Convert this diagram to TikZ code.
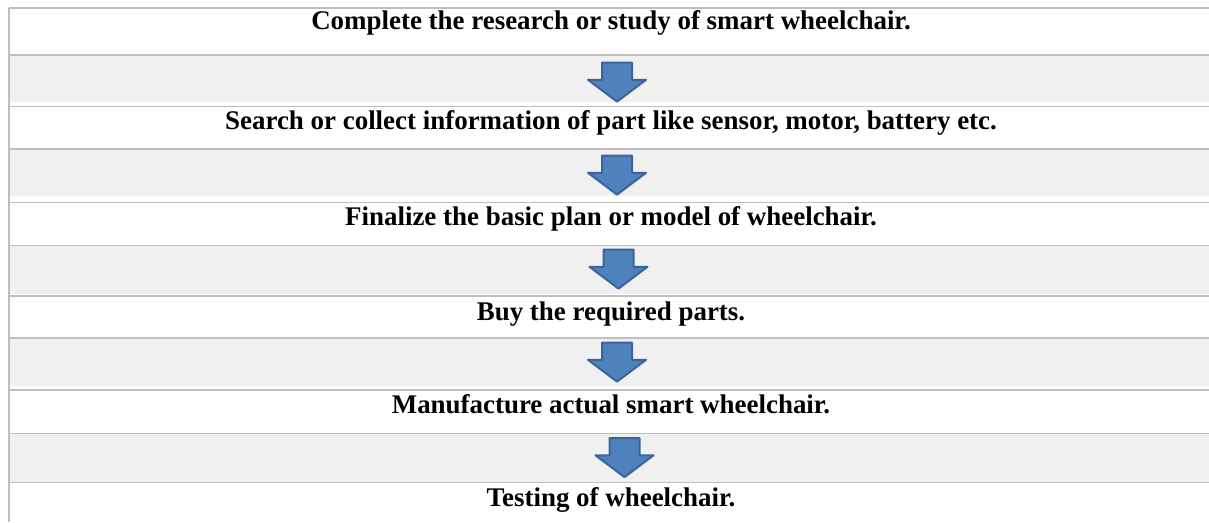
\documentclass[tikz,border=0pt]{standalone}
\usepackage{fontspec}
\setmainfont{Liberation Serif}
\usetikzlibrary{shapes.arrows}
\definecolor{bandgray}{HTML}{F0F0F0}
\definecolor{rulegray}{HTML}{BFBFBF}
\definecolor{arrowblue}{HTML}{4F81BD}
\definecolor{arrowedge}{HTML}{3A659A}
\begin{document}
\begin{tikzpicture}[x=0.75pt, y=-0.75pt,
    rowtext/.style={anchor=base, inner sep=0pt, font=\fontsize{20.2pt}{24pt}\selectfont\bfseries},
    blockarrow/.style={single arrow, shape border rotate=270, draw=arrowedge, fill=arrowblue, line width=1.5pt, line join=round, inner xsep=10.5pt, inner ysep=0pt, minimum width=42pt, minimum height=29.25pt, single arrow head extend=10.5pt, single arrow tip angle=106},
    band/.style={fill=bandgray},
    thinrule/.style={draw=rulegray, line width=0.8pt},
    thickrule/.style={draw=rulegray, line width=1.3pt}
]
    \useasboundingbox (0,0) rectangle (1209,522);
    % Grey bands
    \fill [band] (9,55) rectangle (1209,102);
    \fill [band] (9,149) rectangle (1209,196);
    \fill [band] (9,245.5) rectangle (1209,293.5);
    \fill [band] (9,338) rectangle (1209,385.5);
    \fill [band] (9,433.5) rectangle (1209,481.5);

    % Rules
    \draw [thinrule] (9,8) -- (1209,8);
    \draw [thinrule] (9,55) -- (1209,55);
    \draw [thickrule] (9,106.5) -- (1209,106.5);
    \draw [thinrule] (9,149) -- (1209,149);
    \draw [thickrule] (9,202.5) -- (1209,202.5);
    \draw [thinrule] (9,245.5) -- (1209,245.5);
    \draw [thickrule] (9,296) -- (1209,296);
    \draw [thinrule] (9,338) -- (1209,338);
    \draw [thickrule] (9,390) -- (1209,390);
    \draw [thinrule] (9,433.5) -- (1209,433.5);
    \draw [thickrule] (9,482.5) -- (1209,482.5);
    \draw [thickrule] (9,7.5) -- (9,522);

    % Steps
    \node [rowtext] (step1) at (611,29) {Complete the research or study of smart wheelchair.};
    \node [rowtext] (step2) at (611,129) {Search or collect information of part like sensor, motor, battery etc.};
    \node [rowtext] (step3) at (611,225) {Finalize the basic plan or model of wheelchair.};
    \node [rowtext] (step4) at (611,320) {Buy the required parts.};
    \node [rowtext] (step5) at (611,413) {Manufacture actual smart wheelchair.};
    \node [rowtext] (step6) at (611,506) {Testing of wheelchair.};

    % Arrows
    \node [blockarrow] (next1) at (617,76.5) {};
    \node [blockarrow] (next2) at (617,169.5) {};
    \node [blockarrow] (next3) at (618.5,263.5) {};
    \node [blockarrow] (next4) at (617,356.5) {};
    \node [blockarrow] (next5) at (624.5,452) {};
\end{tikzpicture}
\end{document}
